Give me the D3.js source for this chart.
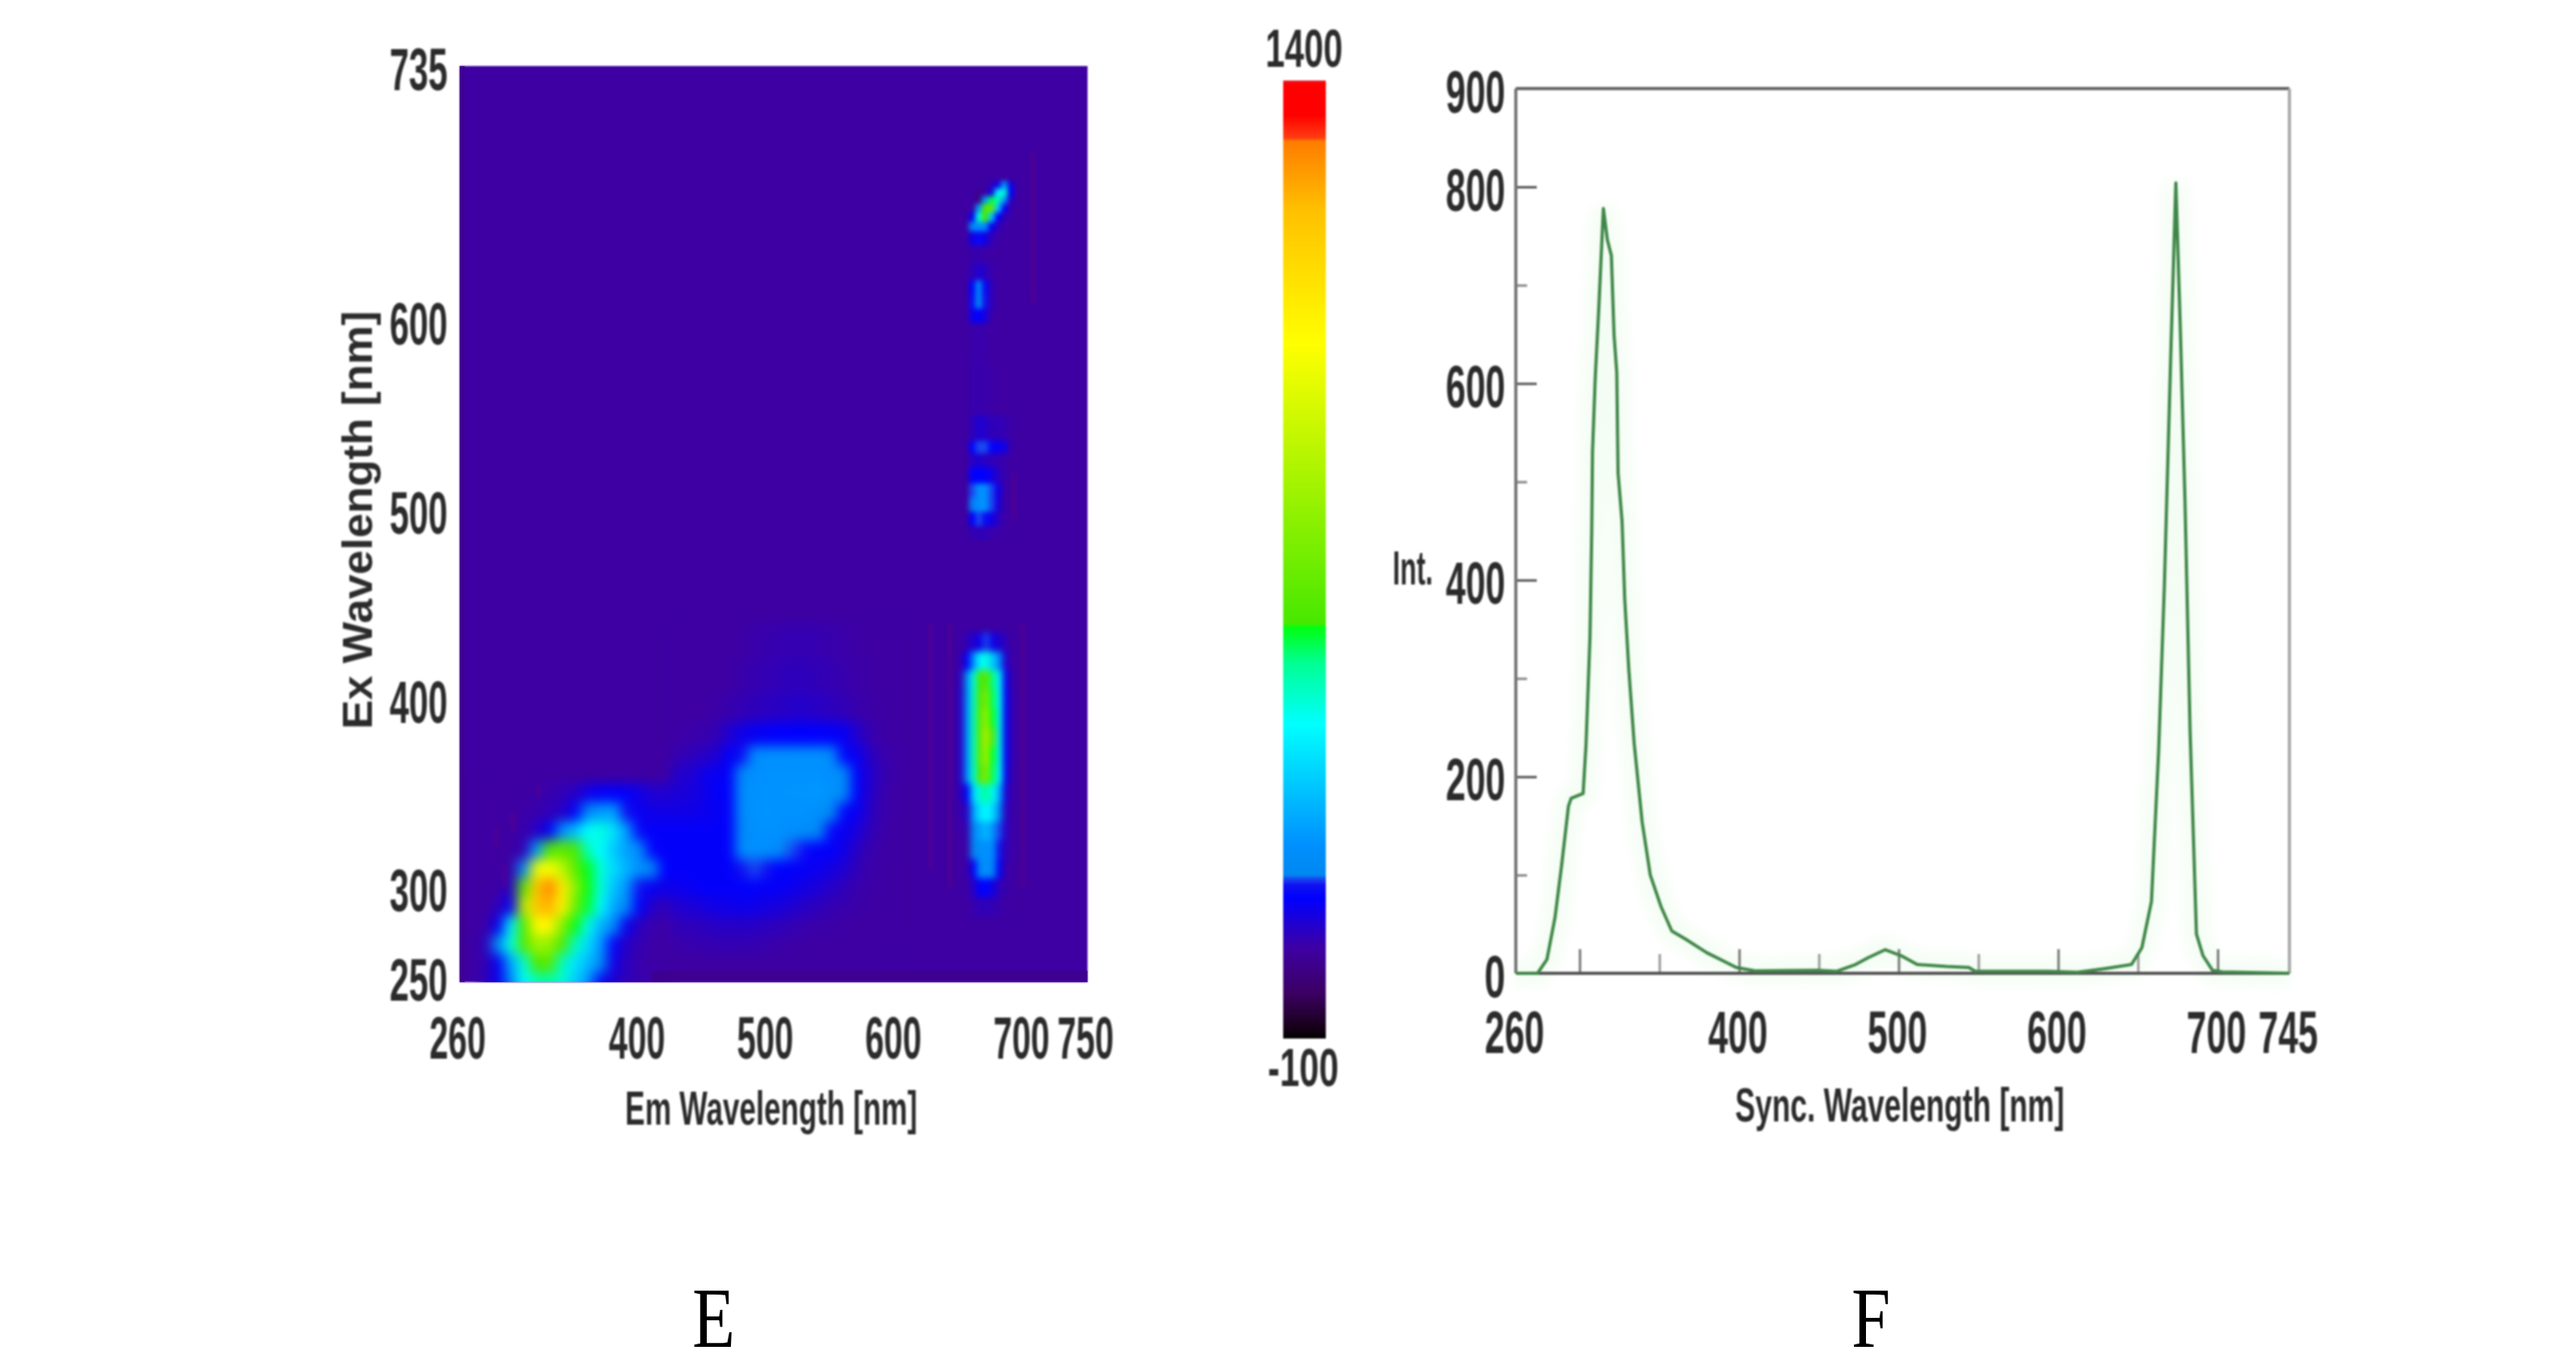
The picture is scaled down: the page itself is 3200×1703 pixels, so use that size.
<!DOCTYPE html>
<html>
<head>
<meta charset="utf-8">
<title>Spectra E and F</title>
<script src="https://cdn.jsdelivr.net/npm/d3@7"></script>
<style>
  html, body { margin: 0; background: #fff; }
  svg { display: block; }
  .lbl { font-family: "Liberation Sans", Arial, sans-serif; font-weight: bold; fill: #2b2b2b; }
  .panel { font-family: "Liberation Serif", serif; fill: #000; }
</style>
</head>
<body>
<svg id="chart" width="3200" height="1703"></svg>
<script>
// colour bar: value stops and their colours
const barValues = [-100, -85, -28, 42, 120, 140, 150, 156, 202, 392, 490, 544, 550, 988, 1198, 1305, 1310, 1346, 1395, 1400];
const barColors = ["#000000", "#150015", "#3c0064", "#3e00a4", "#0000ff", "#1010f0", "#1848f0", "#0088f0", "#0090ff", "#00ffff", "#00ff90", "#00ff10", "#48e800", "#ffff00", "#ffc000", "#ff7c00", "#ff3c10", "#ff0000", "#ff0000", "#e02030"];

// E: ridge near the lower left corner
const ridgeEm = [280, 290, 300, 310, 320, 330, 340, 350, 360, 370, 380, 390, 400, 410, 420];
const ridgeEx = [350, 340, 330, 320, 310, 300, 290, 280, 270, 260, 250];
const ridgeRows = [
  [40, 40, 40, 40, 45, 50, 60, 70, 100, 116, 116, 116, 100, 80, 80],
  [40, 40, 40, 45, 50, 60, 70, 116, 180, 220, 240, 140, 110, 100, 100],
  [40, 40, 40, 50, 70, 116, 190, 280, 390, 420, 340, 220, 130, 116, 116],
  [40, 40, 40, 60, 220, 580, 600, 560, 450, 390, 300, 230, 190, 125, 116],
  [40, 40, 45, 180, 940, 980, 830, 610, 540, 420, 330, 260, 200, 170, 120],
  [40, 45, 70, 600, 1180, 1290, 1040, 720, 545, 420, 290, 210, 140, 110, 100],
  [40, 60, 125, 820, 1180, 1220, 1020, 640, 530, 390, 240, 170, 118, 75, 60],
  [45, 110, 370, 560, 1000, 1010, 700, 545, 410, 260, 180, 110, 65, 50, 45],
  [60, 190, 420, 570, 760, 740, 570, 450, 330, 210, 125, 70, 55, 45, 40],
  [55, 110, 240, 430, 570, 590, 450, 350, 270, 175, 100, 65, 50, 45, 40],
  [60, 110, 170, 390, 460, 470, 430, 310, 210, 130, 80, 60, 50, 45, 40],
];

// E: broad blue patch in the middle
const patchEm = [430, 440, 450, 460, 470, 480, 490, 500, 510, 520, 530, 540, 550, 560, 570, 580, 590, 600];
const patchEx = [430, 410, 395, 380, 370, 360, 350, 340, 330, 320, 310, 300, 290, 280, 270];
const patchRows = [
  [40, 40, 40, 40, 40, 42, 48, 50, 52, 54, 54, 52, 50, 46, 44, 40, 40, 40],
  [40, 40, 40, 40, 42, 48, 52, 56, 60, 62, 62, 58, 54, 50, 46, 42, 40, 40],
  [40, 40, 42, 44, 50, 56, 62, 66, 70, 74, 74, 70, 64, 58, 50, 44, 42, 40],
  [44, 46, 50, 56, 80, 100, 110, 116, 118, 120, 120, 118, 116, 110, 80, 52, 44, 40],
  [55, 60, 70, 80, 116, 135, 190, 200, 200, 200, 205, 200, 185, 125, 110, 70, 50, 45],
  [75, 80, 100, 110, 116, 175, 200, 205, 205, 205, 205, 205, 200, 175, 118, 80, 55, 45],
  [85, 90, 100, 116, 116, 190, 205, 205, 205, 210, 210, 215, 200, 175, 118, 75, 50, 42],
  [100, 100, 105, 110, 116, 190, 205, 210, 205, 205, 205, 195, 165, 125, 110, 70, 48, 42],
  [116, 116, 116, 116, 116, 180, 200, 205, 200, 195, 185, 165, 130, 110, 90, 60, 46, 40],
  [116, 116, 116, 116, 116, 190, 200, 195, 180, 150, 130, 118, 116, 100, 70, 50, 44, 40],
  [116, 116, 116, 116, 116, 140, 150, 140, 120, 116, 112, 105, 95, 80, 60, 46, 42, 40],
  [105, 110, 116, 116, 116, 118, 116, 116, 112, 105, 95, 85, 72, 60, 50, 44, 42, 40],
  [80, 85, 90, 100, 100, 105, 100, 95, 90, 80, 70, 62, 55, 50, 46, 42, 40, 40],
  [60, 62, 65, 70, 72, 72, 70, 66, 60, 55, 50, 46, 44, 42, 40, 40, 40, 40],
  [48, 50, 52, 54, 55, 54, 52, 50, 46, 44, 42, 40, 40, 40, 40, 40, 40, 40],
];

// E: tall spot in the 670 nm column
const spotEm = [646, 651, 656, 661, 666, 671, 676, 681, 686, 691];
const spotEx = [430, 420, 410, 400, 390, 380, 370, 360, 350, 340, 330, 320, 310, 300, 290];
const spotRows = [
  [40, 40, 60, 80, 100, 150, 100, 80, 60, 40],
  [40, 50, 116, 200, 380, 420, 300, 180, 80, 45],
  [40, 60, 180, 420, 550, 600, 500, 380, 110, 50],
  [40, 70, 190, 440, 570, 680, 520, 400, 116, 55],
  [40, 70, 200, 450, 580, 750, 540, 410, 116, 55],
  [40, 70, 200, 450, 590, 800, 550, 410, 116, 55],
  [40, 70, 200, 450, 590, 780, 540, 410, 116, 55],
  [40, 70, 190, 430, 570, 700, 520, 390, 110, 50],
  [40, 60, 116, 330, 430, 480, 410, 260, 90, 45],
  [40, 50, 70, 230, 350, 390, 330, 170, 70, 45],
  [40, 45, 50, 170, 230, 270, 210, 150, 70, 45],
  [40, 40, 45, 160, 195, 205, 190, 140, 60, 45],
  [40, 40, 45, 116, 180, 195, 170, 116, 50, 42],
  [40, 40, 42, 70, 120, 125, 100, 60, 48, 40],
  [40, 40, 40, 50, 60, 60, 55, 48, 42, 40],
];

// E: small spots higher up the same column
const upperEm = [660, 665, 670, 675, 680, 685, 690];
const upperEx = [672, 668, 664, 660, 655, 650, 645, 635, 625, 618, 610, 603, 595, 560, 540, 533, 527, 518, 510, 503, 495, 488];
const upperRows = [
  [40, 40, 40, 60, 100, 220, 100],
  [40, 20, 40, 100, 380, 440, 116],
  [40, 0, 220, 520, 470, 200, 70],
  [40, 220, 580, 620, 300, 116, 50],
  [116, 430, 550, 300, 116, 60, 45],
  [170, 200, 180, 116, 60, 45, 40],
  [100, 130, 100, 60, 45, 40, 40],
  [48, 52, 46, 42, 40, 40, 40],
  [60, 80, 70, 48, 42, 40, 40],
  [125, 165, 130, 60, 42, 40, 40],
  [135, 175, 140, 60, 42, 40, 40],
  [100, 120, 90, 50, 40, 40, 40],
  [46, 50, 46, 42, 40, 40, 40],
  [48, 50, 48, 44, 42, 40, 40],
  [60, 80, 75, 60, 60, 55, 45],
  [125, 150, 150, 125, 110, 100, 50],
  [70, 80, 70, 60, 55, 48, 42],
  [116, 120, 116, 100, 70, 50, 40],
  [150, 195, 200, 150, 100, 50, 40],
  [155, 200, 205, 150, 90, 48, 40],
  [116, 150, 135, 100, 70, 45, 40],
  [55, 60, 60, 50, 45, 42, 40],
];

// E: faint reddish speckle seen around the features
const speckleEm = [705, 697, 640, 625, 690, 319, 299, 286, 292];
const speckleTop = [690, 440, 440, 440, 520, 354, 340, 332, 312];
const speckleBottom = [610, 300, 300, 310, 495, 348, 330, 322, 300];

const backgroundValue = 40;
const edgeValue = 15;

// E ticks
const emTicks = [260, 400, 500, 600, 700, 750];
const exTicks = [250, 300, 400, 500, 600, 735];

// F: synchronous spectrum
const syncNm = [260, 273.6, 279.5, 284.6, 288.8, 293, 294.7, 302.2, 304, 306.5, 307.6, 308.1, 309.8, 312, 314.9, 317.4, 319.9, 321.6, 323.3, 324.1, 326.6, 328.3, 330.8, 334.2, 339.2, 344.3, 351, 357.8, 366.2, 379.7, 398.2, 410, 449, 461, 473, 481, 491.5, 501.5, 511.6, 530, 544, 548, 594, 612, 630, 646, 652.5, 658.5, 663, 666.6, 670.6, 673.8, 676.7, 679.5, 682.7, 686.7, 690.8, 696.8, 702.8, 745];
const syncInt = [0, 0, 14, 57, 111, 170, 178, 183, 232, 342, 450, 531, 606, 676, 778, 746, 730, 649, 611, 509, 460, 380, 310, 234, 154, 100, 68, 43, 35, 21, 6, 2.5, 3, 2, 9, 16, 24, 18, 9, 7, 6, 2, 2, 1, 5, 9, 26, 73, 226, 394, 628, 804, 650, 482, 248, 40, 18, 3, 1.5, 0];

// F ticks
const syncTicks = [260, 300, 400, 500, 600, 700, 745];
const syncTickLabels = ["260", "", "400", "500", "600", "700", "745"];
const syncMinor = [350, 450, 550, 650];
const intTicks = [0, 200, 400, 600, 800, 900];
const intMinor = [100, 300, 500, 700];

const svg = d3.select("#chart");
const defs = svg.append("defs");

function blur(id, sd) {
  defs.append("filter").attr("id", id)
    .attr("x", "-20%").attr("y", "-20%").attr("width", "140%").attr("height", "140%")
    .attr("color-interpolation-filters", "sRGB")
    .append("feGaussianBlur").attr("stdDeviation", sd);
}
blur("soft", 1.3);
blur("wide", 7.5);
blur("narrow", 4);
blur("thin", 3);
blur("halo", 9);

const color = d3.scaleLinear().domain(barValues).range(barColors).clamp(true);

// cell edges are the midpoints between neighbouring values
function edges(vals) {
  const e = vals.slice(0, -1).map((v, i) => (v + vals[i + 1]) / 2);
  const first = vals[0] - (e[0] - vals[0]);
  const last = vals[vals.length - 1] + (vals[vals.length - 1] - e[e.length - 1]);
  return [first, ...e, last];
}

function drawCells(g, x, y, ems, exs, rows) {
  const ex = edges(ems), ey = edges(exs);
  const cells = rows.flatMap((row, r) => row.map((v, c) => ({ v, c, r })));
  g.append("g").selectAll("rect").data(cells).join("rect")
    .attr("x", (d) => x(ex[d.c]))
    .attr("width", (d) => x(ex[d.c + 1]) - x(ex[d.c]) + 0.5)
    .attr("y", (d) => y(ey[d.r]))
    .attr("height", (d) => y(ey[d.r + 1]) - y(ey[d.r]) + 0.5)
    .attr("fill", (d) => color(d.v));
}

// narrow a text to the given width, the reference type is very condensed
function squeeze(sel, len, before = "") {
  sel.each(function () {
    const t = d3.select(this);
    const natural = this.getComputedTextLength();
    if (!natural) return;
    const w = typeof len === "function" ? len(this.textContent) : len;
    const tx = +t.attr("x") || 0, ty = +t.attr("y") || 0;
    t.attr("x", 0).attr("y", 0).attr("dy", null)
      .attr("transform", `${before} translate(${tx},${ty}) scale(${w / natural},1)`);
  });
}

function txt(g, s, x, y, len, size, before) {
  const t = g.append("text").attr("class", "lbl").attr("x", x).attr("y", y)
    .attr("font-size", size).attr("text-anchor", "middle").text(s);
  squeeze(t, len, before);
  return t;
}

function styleTicks(axisG, attrs, len = 72) {
  axisG.select(".domain").remove();
  axisG.selectAll("text").attr("class", "lbl").attr("fill", null)
    .attr("font-size", 74).attr("font-family", null)
    .attr("x", attrs.x).attr("y", attrs.y).attr("dy", null);
  squeeze(axisG.selectAll("text"), len);
}

function drawExEm() {
  const left = 571, right = 1351, top = 82, bottom = 1220;
  const x = d3.scaleLinear().domain([260, 750]).range([left, right]);
  const y = d3.scaleLinear().domain([250, 735]).range([bottom, top]);
  const g = svg.append("g");

  defs.append("clipPath").attr("id", "plotClip").append("rect")
    .attr("x", left).attr("y", top).attr("width", right - left).attr("height", bottom - top);

  g.append("rect").attr("x", left).attr("y", top).attr("width", right - left).attr("height", bottom - top)
    .attr("fill", color(backgroundValue)).attr("filter", "url(#soft)");

  const clipped = g.append("g").attr("clip-path", "url(#plotClip)");
  const broad = clipped.append("g").attr("filter", "url(#wide)");
  drawCells(broad, x, y, ridgeEm, ridgeEx, ridgeRows);
  drawCells(broad, x, y, patchEm, patchEx, patchRows);
  drawCells(clipped.append("g").attr("filter", "url(#narrow)"), x, y, spotEm, spotEx, spotRows);
  drawCells(clipped.append("g").attr("filter", "url(#thin)"), x, y, upperEm, upperEx, upperRows);

  // faint speckle
  clipped.append("g").attr("filter", "url(#soft)").selectAll("rect").data(speckleEm).join("rect")
    .attr("x", (d) => x(d))
    .attr("width", x(265) - x(260))
    .attr("y", (d, i) => y(speckleTop[i]))
    .attr("height", (d, i) => y(speckleBottom[i]) - y(speckleTop[i]))
    .attr("fill", "#64008c").attr("opacity", 0.3);

  // darker rim on the bottom and left of the map
  const rim = g.append("g").attr("clip-path", "url(#plotClip)").attr("fill", color(edgeValue)).attr("opacity", 0.75);
  rim.append("rect").attr("x", x(410)).attr("y", y(256)).attr("width", right - x(410)).attr("height", bottom - y(256));
  rim.append("rect").attr("x", left).attr("y", top).attr("width", x(264) - left).attr("height", bottom - top);

  const text = svg.append("g").attr("filter", "url(#soft)");
  const xAxis = text.append("g").attr("transform", `translate(0,${bottom})`)
    .call(d3.axisBottom(x).tickValues(emTicks).tickSize(0).tickFormat(d3.format("d")));
  styleTicks(xAxis, { x: -3, y: 95 }, 70);
  const yAxis = text.append("g").attr("transform", `translate(${left},0)`)
    .call(d3.axisLeft(y).tickValues(exTicks).tickSize(0).tickFormat(d3.format("d")));
  yAxis.selectAll(".tick").filter((d) => d === 250).attr("transform", `translate(0,${y(250) - 6})`);
  styleTicks(yAxis, { x: -15, y: 29 });

  txt(text, "Em Wavelength [nm]", 958, 1397, 363, 60);
  txt(text, "Ex Wavelength [nm]", 0, 0, 520, 52, "translate(462,646) rotate(-90)");
}

function drawColorBar() {
  const y = d3.scaleLinear().domain([-100, 1400]).range([1290, 100]);
  const grad = defs.append("linearGradient").attr("id", "barGrad")
    .attr("gradientUnits", "userSpaceOnUse").attr("x1", 0).attr("x2", 0).attr("y1", y(-100)).attr("y2", y(1400));
  barValues.forEach((v, i) => {
    grad.append("stop").attr("offset", (v + 100) / 1500).attr("stop-color", barColors[i]);
  });
  const g = svg.append("g").attr("filter", "url(#soft)");
  g.append("rect").attr("x", 1594).attr("y", y(1400)).attr("width", 53).attr("height", y(-100) - y(1400))
    .attr("fill", "url(#barGrad)");
  txt(g, "1400", 1620, 83, 96, 66);
  txt(g, "-100", 1619, 1349, 88, 66);
}

function drawSync() {
  const left = 1883, right = 2844, top = 110, bottom = 1209;
  const x = d3.scaleLinear().domain([260, 745]).range([left, right]);
  const y = d3.scaleLinear().domain([0, 900]).range([bottom, top]);
  const g = svg.append("g").attr("filter", "url(#soft)");
  const points = syncNm.map((nm, i) => [nm, syncInt[i]]);
  const line = d3.line().x((d) => x(d[0])).y((d) => y(d[1]));

  // pale green glow around the trace
  svg.insert("path", ":first-child").attr("d", line(points)).attr("fill", "none")
    .attr("stroke", "#f4fdf4").attr("stroke-width", 30).attr("filter", "url(#halo)");

  const minorX = g.append("g").attr("transform", `translate(0,${bottom})`)
    .call(d3.axisBottom(x).tickValues(syncMinor).tickSize(-24).tickFormat(""));
  minorX.select(".domain").remove();
  minorX.selectAll("line").attr("stroke", "#999").attr("stroke-width", 3);
  const minorY = g.append("g").attr("transform", `translate(${left},0)`)
    .call(d3.axisLeft(y).tickValues(intMinor).tickSize(-14).tickFormat(""));
  minorY.select(".domain").remove();
  minorY.selectAll("line").attr("stroke", "#888").attr("stroke-width", 3);

  const xAxis = g.append("g").attr("transform", `translate(0,${bottom})`)
    .call(d3.axisBottom(x).tickValues(syncTicks).tickSize(-30).tickFormat((d, i) => syncTickLabels[i]));
  styleTicks(xAxis, { x: -2, y: 99 }, 74);
  xAxis.selectAll("line").attr("stroke", "#777").attr("stroke-width", 3);
  const yAxis = g.append("g").attr("transform", `translate(${left},0)`)
    .call(d3.axisLeft(y).tickValues(intTicks).tickSize(-26).tickFormat(d3.format("d")));
  styleTicks(yAxis, { x: -13, y: 29 }, (s) => (s === "0" ? 26 : 74));
  yAxis.selectAll("line").attr("stroke", "#555").attr("stroke-width", 3);

  // frame
  const frame = g.append("g").attr("fill", "none").attr("stroke-width", 4);
  frame.append("line").attr("x1", left).attr("x2", left).attr("y1", top).attr("y2", bottom).attr("stroke", "#777");
  frame.append("line").attr("x1", left).attr("x2", right).attr("y1", top).attr("y2", top).attr("stroke", "#666");
  frame.append("line").attr("x1", right).attr("x2", right).attr("y1", top).attr("y2", bottom).attr("stroke", "#aaa");
  frame.append("line").attr("x1", left).attr("x2", right).attr("y1", bottom).attr("y2", bottom).attr("stroke", "#555");

  g.append("path").attr("d", line(points)).attr("fill", "none")
    .attr("stroke", "#3f8748").attr("stroke-width", 4).attr("stroke-linejoin", "round");

  txt(g, "Sync. Wavelength [nm]", 2360, 1393, 409, 60);
  txt(g, "Int.", 1755, 726, 50, 60);
}

function drawPanelLetters() {
  [["E", 860], ["F", 2300]].forEach(([s, px]) => {
    svg.append("text").attr("class", "panel").attr("font-size", 106)
      .attr("transform", `translate(${px},1673) scale(0.82,1)`).text(s);
  });
}

drawExEm();
drawColorBar();
drawSync();
drawPanelLetters();
</script>
</body>
</html>
